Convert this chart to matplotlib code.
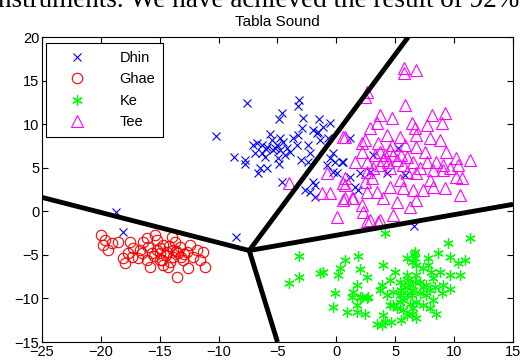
import matplotlib
matplotlib.use("Agg")
import matplotlib.pyplot as plt

plt.rcParams["font.family"] = ["Liberation Sans", "DejaVu Sans"]

# class scatter data
dhin_x = [-7.57, -3.21, -3.27, -4.65, -4.85, -2.82, -1.46, -0.55, -1.12, -10.23,
          -5.65, -2.95, -1.97, -1.68, -3.24, -3.67, -4.80, -5.50, -6.77, -6.35,
          -7.06, -5.93, -5.08, -4.52, -4.23, -3.95, -3.38, -4.80, -5.37, -6.35,
          -6.92, -6.07, -2.39, -2.25, -2.39, -4.94, -4.86, -8.70, -7.77, -7.77,
          -6.49, -5.93, -6.64, -1.54, -1.40, -0.70, -0.27, -0.55, -0.13, -0.83,
          -0.27, 0.02, -4.65, -1.97, -1.83, -2.67, -2.25, -1.83, 1.57, 1.15,
          0.58, 2.00, 2.84, 4.26, 5.81, 5.25, 1.86, 3.12, 1.15, 0.44,
          6.58, -18.72, -18.15, -8.56, -5.2, -4.4, -6.0, -3.0]
dhin_y = [12.39, 12.77, 12.11, 11.24, 10.55, 10.66, 10.55, 10.16, 9.70, 8.63,
          8.83, 9.52, 9.32, 8.94, 8.75, 8.37, 8.37, 8.17, 7.80, 7.60,
          7.60, 7.41, 7.60, 7.98, 7.22, 6.83, 7.60, 7.03, 7.03, 6.65,
          6.65, 6.26, 7.60, 6.65, 5.68, 6.07, 5.38, 6.26, 5.88, 5.38,
          4.93, 4.93, 4.35, 9.13, 8.17, 8.37, 6.65, 6.07, 5.68, 5.30,
          4.54, 4.35, 3.32, 3.39, 3.01, 2.43, 2.24, 1.66, 2.81, 3.96,
          5.68, 4.35, 4.54, 4.35, 4.16, 7.22, 2.43, 6.45, 8.37, 5.68,
          -1.66, -0.06, -2.35, -2.92, 7.3, 6.5, 7.1, 5.9]

ghae_x = [-20.02, -19.65, -19.80, -19.08, -19.37, -18.52, -17.53, -17.25, -17.67, -18.10,
          -17.95, -16.83, -16.54, -16.40, -15.98, -15.41, -15.26, -15.69, -16.11, -14.98,
          -14.70, -15.26, -14.70, -14.41, -13.99, -13.71, -13.85, -14.13, -13.43, -13.29,
          -13.01, -12.72, -12.44, -12.16, -11.87, -11.31, -11.16, -12.58, -13.57, -16.11,
          -14.98, -16.68, -14.28, -15.83, -11.59, -17.39, -14.5, -13.9, -15.0, -13.2,
          -14.2, -12.9, -15.5, -14.8, -13.6]
ghae_y = [-2.73, -3.31, -3.88, -3.69, -4.45, -3.50, -3.50, -4.26, -4.83, -5.41,
          -5.98, -5.41, -4.83, -3.50, -4.07, -2.73, -3.31, -4.83, -5.60, -5.60,
          -6.18, -4.45, -3.88, -4.64, -2.93, -3.50, -5.22, -5.79, -4.83, -4.07,
          -5.60, -4.64, -3.88, -5.22, -4.45, -4.64, -6.37, -6.56, -7.52, -3.11,
          -4.83, -4.45, -6.37, -6.37, -5.60, -5.22, -5.0, -4.4, -4.2, -5.3,
          -4.0, -4.9, -5.1, -5.6, -4.6]

ke_x = [4.12, -3.15, -3.15, -4.01, 0.72, 1.85, 1.99, 0.30, 0.15, -1.12,
        -1.40, 2.56, 1.71, 1.43, -0.13, -0.27, 0.87, 1.71, 2.42, 1.71,
        1.99, 2.70, 3.97, 5.96, 6.66, 7.79, 8.64, 9.49, 11.33, 9.63,
        10.91, 10.34, 10.48, 9.63, 8.79, 7.79, 6.80, 4.97, 5.96, 6.80,
        8.21, 9.07, 9.63, 8.93, 8.36, 7.65, 7.09, 6.24, 5.39, 4.54,
        3.84, 3.69, 4.26, 4.82, 5.53, 5.96, 6.52, 7.09, 7.65, 8.21,
        8.50, 6.80, 6.24, 5.39, 4.82, 5.67, 6.38, 6.80, 5.96, 5.11,
        4.54, 3.97, 4.12, 4.68, 5.53, 3.41, 3.84, 6.38, 5.67, 6.52,
        7.37, 7.94, 6.60, 6.70, 6.38, 7.37, 8.07, 7.94, 6.10, 5.81,
        5.39, 6.66, 7.37, 1.29, 2.14, 2.56]
ke_y = [-2.54, -5.11, -7.52, -8.21, -5.60, -5.11, -6.64, -6.56, -7.33, -6.94,
        -7.13, -7.52, -8.47, -9.24, -9.43, -10.96, -11.54, -11.54, -11.73, -10.77,
        -9.81, -9.81, -6.18, -5.41, -4.65, -5.41, -4.83, -3.69, -3.11, -5.22,
        -5.60, -5.98, -7.33, -7.33, -6.94, -6.18, -6.18, -6.94, -7.33, -7.33,
        -7.71, -8.47, -8.86, -9.43, -8.66, -8.47, -8.09, -8.47, -8.09, -7.90,
        -8.47, -9.05, -9.62, -9.24, -9.05, -9.62, -9.05, -9.43, -9.62, -10.20,
        -11.73, -10.39, -10.58, -10.39, -10.77, -11.34, -11.73, -12.30, -11.92, -11.15,
        -10.77, -11.92, -12.69, -12.69, -12.49, -12.88, -13.07, -9.62, -10.20, -11.15,
        -10.77, -11.15, -4.90, -5.40, -5.79, -6.56, -6.94, -9.05, -7.90, -8.66,
        -9.62, -8.09, -8.66, -9.81, -9.81, -10.00]

tee_x = [5.76, 6.80, 5.73, 2.42, 5.81, 3.69, 4.69, 3.41, 2.84, 8.08,
         9.21, 8.93, 7.66, 6.38, 6.66, 6.80, 7.93, 8.79, 4.26, 5.39,
         2.42, 0.58, 3.55, 4.69, 5.81, 6.80, 7.51, 9.35, 10.20, 11.33,
         2.14, 2.56, 3.27, 3.97, 4.40, 5.11, 5.67, 6.52, 7.09, 8.50,
         9.07, 9.63, 10.20, 9.07, 7.93, 8.22, 9.21, 10.48, 6.52, 5.67,
         4.54, 3.97, 3.41, 5.11, 6.24, 6.80, 2.56, 2.14, 2.28, 2.84,
         3.69, 0.02, 0.72, 1.29, 0.58, 0.72, -0.55, -1.26, 2.42, 2.99,
         3.12, 2.56, 2.14, 1.57, 3.69, 4.54, 5.96, 7.66, 8.22, 10.34,
         10.63, 6.80, 5.39, 7.37, 3.69, 4.12, 4.82, 5.53, 5.96, 4.54,
         -4.00, 2.56, 2.56, 3.55, 4.82, 0.72, -0.83, 0.72, 0.58, 1.43]
tee_y = [16.40, 16.21, 15.83, 13.15, 12.19, 11.04, 10.66, 10.09, 9.52, 11.04,
         11.24, 10.09, 9.90, 10.09, 9.52, 8.75, 8.37, 8.17, 8.75, 8.56,
         8.17, 8.56, 7.80, 7.60, 7.60, 7.41, 6.83, 6.83, 6.07, 5.88,
         6.83, 5.68, 6.45, 5.88, 5.68, 5.88, 5.30, 5.68, 4.93, 5.68,
         5.30, 4.93, 3.96, 4.73, 3.58, 2.81, 2.63, 1.86, 2.43, 2.63,
         2.81, 1.48, 2.24, 1.09, 0.52, 1.29, 2.24, 0.71, -0.06, -1.01,
         -1.01, -0.63, 1.48, 1.48, 3.20, 3.78, 2.05, 2.05, 3.39, 3.78,
         4.93, 4.54, 7.80, 5.68, 5.30, 4.93, 4.54, 5.68, 4.73, 5.30,
         3.78, 4.35, 3.58, 2.43, 6.83, 6.45, 6.45, 6.45, 6.26, 7.03,
         3.20, 13.70, -1.10, -1.20, -0.40, 8.56, 4.35, 3.01, 1.29, 1.48]

# decision boundaries: one junction point, four arms to the frame
junction = (-7.4, -4.5)
arm_ends = [(-25, 1.6), (6.1, 20), (15, 0.8), (-5.0, -15)]

fig = plt.figure(figsize=(5.26, 3.62), dpi=100)
ax = fig.add_axes([0.0798, 0.0552, 0.8955, 0.8425])

ax.plot(dhin_x, dhin_y, "x", color="#0000ff", ms=5.5, mew=0.8, label="Dhin")
ax.plot(ghae_x, ghae_y, "o", color="#ff0000", mfc="none", ms=7.5, mew=0.8, label="Ghae")
ax.plot(ke_x, ke_y, marker=(6, 2, 0), ls="none", color="#00ff00", ms=7.5, mew=0.9, label="Ke")
ax.plot(tee_x, tee_y, "^", color="#ff00ff", mfc="none", ms=8.5, mew=0.8, label="Tee")

for ex, ey in arm_ends:
    ax.plot([junction[0], ex], [junction[1], ey], color="black", lw=3.5,
            solid_capstyle="butt")

ax.set_xlim(-25, 15)
ax.set_ylim(-15, 20)
ax.set_xticks(range(-25, 16, 5))
ax.set_yticks(range(-15, 21, 5))
ax.tick_params(direction="in", top=True, right=True, length=4, labelsize=10.5, pad=2)
for s in ax.spines.values():
    s.set_linewidth(0.8)
ax.set_title("Tabla Sound", fontsize=11, pad=8)

leg = ax.legend(loc="upper left", bbox_to_anchor=(0.0085, 0.98), borderaxespad=0,
                fontsize=10.5, fancybox=False, edgecolor="black", framealpha=1,
                handlelength=3.2, handletextpad=1.3, labelspacing=0.5, borderpad=0.55)
leg.get_frame().set_linewidth(0.8)

# page text from the paper above the figure, cut by the crop
fig.text(-0.004, 0.981, "nstruments. We have achieved the result of 92%",
         family="Liberation Serif", fontsize=19.5, va="baseline")

fig.savefig("out.png", dpi=100)
